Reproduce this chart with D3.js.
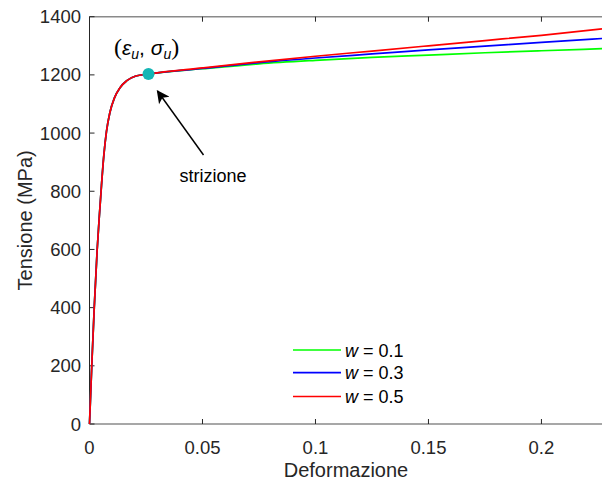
<!DOCTYPE html>
<html><head><meta charset="utf-8">
<script src="https://cdn.jsdelivr.net/npm/d3@7"></script>
<style>
html,body{margin:0;padding:0;background:#fff;}
svg{display:block;}
text{font-family:"Liberation Sans",Arial,Helvetica,sans-serif;fill:#262626;}
</style></head>
<body>
<svg id="chart" width="602" height="483"></svg>
<script>
// Shared pre-necking part (strain, stress MPa)
const preStrain = [0, 0.001, 0.0021, 0.0034, 0.0044, 0.0053, 0.0063, 0.0075, 0.0090, 0.0110, 0.0135, 0.0165, 0.0205, 0.0261];
const preStress = [0, 200, 400, 600, 720, 820, 920, 1005, 1070, 1120, 1156, 1180, 1196, 1203];
// Post-necking extrapolations
const postStrain = [0.0261, 0.05, 0.075, 0.1, 0.125, 0.15, 0.175, 0.2, 0.2268];
const stressW01 = [1203, 1221, 1238, 1250, 1260, 1268, 1276, 1283, 1290];
const stressW03 = [1203, 1222, 1242, 1258, 1272, 1286, 1299, 1312, 1325];
const stressW05 = [1203, 1224, 1245, 1264, 1282, 1300, 1318, 1336, 1358];
const seriesNames = ["w = 0.1", "w = 0.3", "w = 0.5"];
const seriesW = ["0.1", "0.3", "0.5"];
const seriesColors = ["#00ff00", "#0000ff", "#ff0000"];
const xTicks = [0, 0.05, 0.1, 0.15, 0.2];
const yTicks = [0, 200, 400, 600, 800, 1000, 1200, 1400];
const neck = {strain: 0.0261, stress: 1203};

const svg = d3.select("#chart");
const x = d3.scaleLinear().domain([0, 0.2268]).range([89.5, 602]);
const y = d3.scaleLinear().domain([0, 1400]).range([424, 16.7]);

const allSeries = [stressW01, stressW03, stressW05].map((post, i) => {
  const pts = preStrain.map((e, j) => [e, preStress[j]]);
  postStrain.slice(1).forEach((e, j) => pts.push([e, post[j + 1]]));
  return {name: seriesNames[i], w: seriesW[i], color: seriesColors[i], pts};
});

// Axes lines
svg.append("line").attr("x1", x(0)).attr("x2", 602).attr("y1", y(0)).attr("y2", y(0))
  .attr("stroke", "#8a8a8a").attr("stroke-width", 1.5);
svg.append("line").attr("x1", x(0)).attr("x2", 602).attr("y1", y(1400)).attr("y2", y(1400))
  .attr("stroke", "#8a8a8a").attr("stroke-width", 1.5);
svg.append("line").attr("x1", x(0)).attr("x2", x(0)).attr("y1", y(0)).attr("y2", y(1400))
  .attr("stroke", "#262626").attr("stroke-width", 1);

// Ticks
const tl = 5;
xTicks.forEach(t => {
  svg.append("line").attr("x1", x(t)).attr("x2", x(t)).attr("y1", y(0)).attr("y2", y(0) - tl).attr("stroke", "#262626");
  svg.append("line").attr("x1", x(t)).attr("x2", x(t)).attr("y1", y(1400)).attr("y2", y(1400) + tl).attr("stroke", "#262626");
  svg.append("text").attr("x", x(t)).attr("y", 454).attr("text-anchor", "middle")
    .attr("font-size", 18.5).text(String(t));
});
yTicks.forEach(t => {
  svg.append("line").attr("x1", x(0)).attr("x2", x(0) + tl).attr("y1", y(t)).attr("y2", y(t)).attr("stroke", "#262626");
  svg.append("text").attr("x", 81).attr("y", y(t) + 6.5).attr("text-anchor", "end")
    .attr("font-size", 18.5).text(String(t));
});

// Axis labels
svg.append("text").attr("x", 346).attr("y", 477).attr("text-anchor", "middle")
  .attr("font-size", 20).text("Deformazione");
svg.append("text").attr("transform", `translate(32,${(y(0) + y(1400)) / 2}) rotate(-90)`)
  .attr("text-anchor", "middle").attr("font-size", 20).text("Tensione (MPa)");

// Curves
const line = d3.line().x(d => x(d[0])).y(d => y(d[1])).curve(d3.curveMonotoneX);
svg.append("g").selectAll("path").data(allSeries).join("path")
  .attr("d", d => line(d.pts)).attr("fill", "none")
  .attr("stroke", d => d.color).attr("stroke-width", 1.7);

// Necking point
svg.append("circle").attr("cx", x(neck.strain)).attr("cy", y(neck.stress)).attr("r", 6)
  .attr("fill", "#14b5b5");

// Label (eps_u, sigma_u)
const lab = svg.append("text").attr("x", 114).attr("y", 55)
  .attr("font-family", "'DejaVu Serif','Liberation Serif',serif").attr("font-size", 21).style("fill", "#000");
lab.append("tspan").attr("font-size", 24).attr("font-family", "'Liberation Serif',serif").text("(");
lab.append("tspan").attr("font-style", "italic").text("ε");
lab.append("tspan").attr("font-style", "italic").attr("font-size", 14).attr("dy", 4).text("u");
lab.append("tspan").attr("dy", -4).text(", ");
lab.append("tspan").attr("font-style", "italic").text("σ");
lab.append("tspan").attr("font-style", "italic").attr("font-size", 14).attr("dy", 4).text("u");
lab.append("tspan").attr("dy", -4).attr("font-size", 24).attr("font-family", "'Liberation Serif',serif").text(")");

// Arrow
const defs = svg.append("defs");
defs.append("marker").attr("id", "ah").attr("viewBox", "0 0 10 10").attr("refX", 9).attr("refY", 5)
  .attr("markerWidth", 15).attr("markerHeight", 13).attr("markerUnits", "userSpaceOnUse").attr("orient", "auto")
  .append("path").attr("d", "M0,0 L10,5 L0,10 L2.5,5 Z").attr("fill", "#000");
svg.append("line").attr("x1", 203.5).attr("y1", 155).attr("x2", 157.5).attr("y2", 91)
  .attr("stroke", "#000").attr("stroke-width", 1.5).attr("marker-end", "url(#ah)");
svg.append("text").attr("x", 213).attr("y", 182).attr("text-anchor", "middle")
  .attr("font-size", 18).style("fill", "#000").text("strizione");

// Legend
const lg = svg.append("g");
const legY = [350, 372.7, 396.5];
allSeries.forEach((s, i) => {
  lg.append("line").attr("x1", 293).attr("x2", 341).attr("y1", legY[i]).attr("y2", legY[i])
    .attr("stroke", s.color).attr("stroke-width", 1.7);
  const t = lg.append("text").attr("x", 345).attr("y", legY[i] + 6.5)
    .attr("font-family", "'DejaVu Serif','Liberation Serif',serif").attr("font-size", 18).style("fill", "#000");
  t.append("tspan").attr("font-style", "italic").text("w");
  t.append("tspan").text(" = " + s.w);
});
</script>
</body></html>
